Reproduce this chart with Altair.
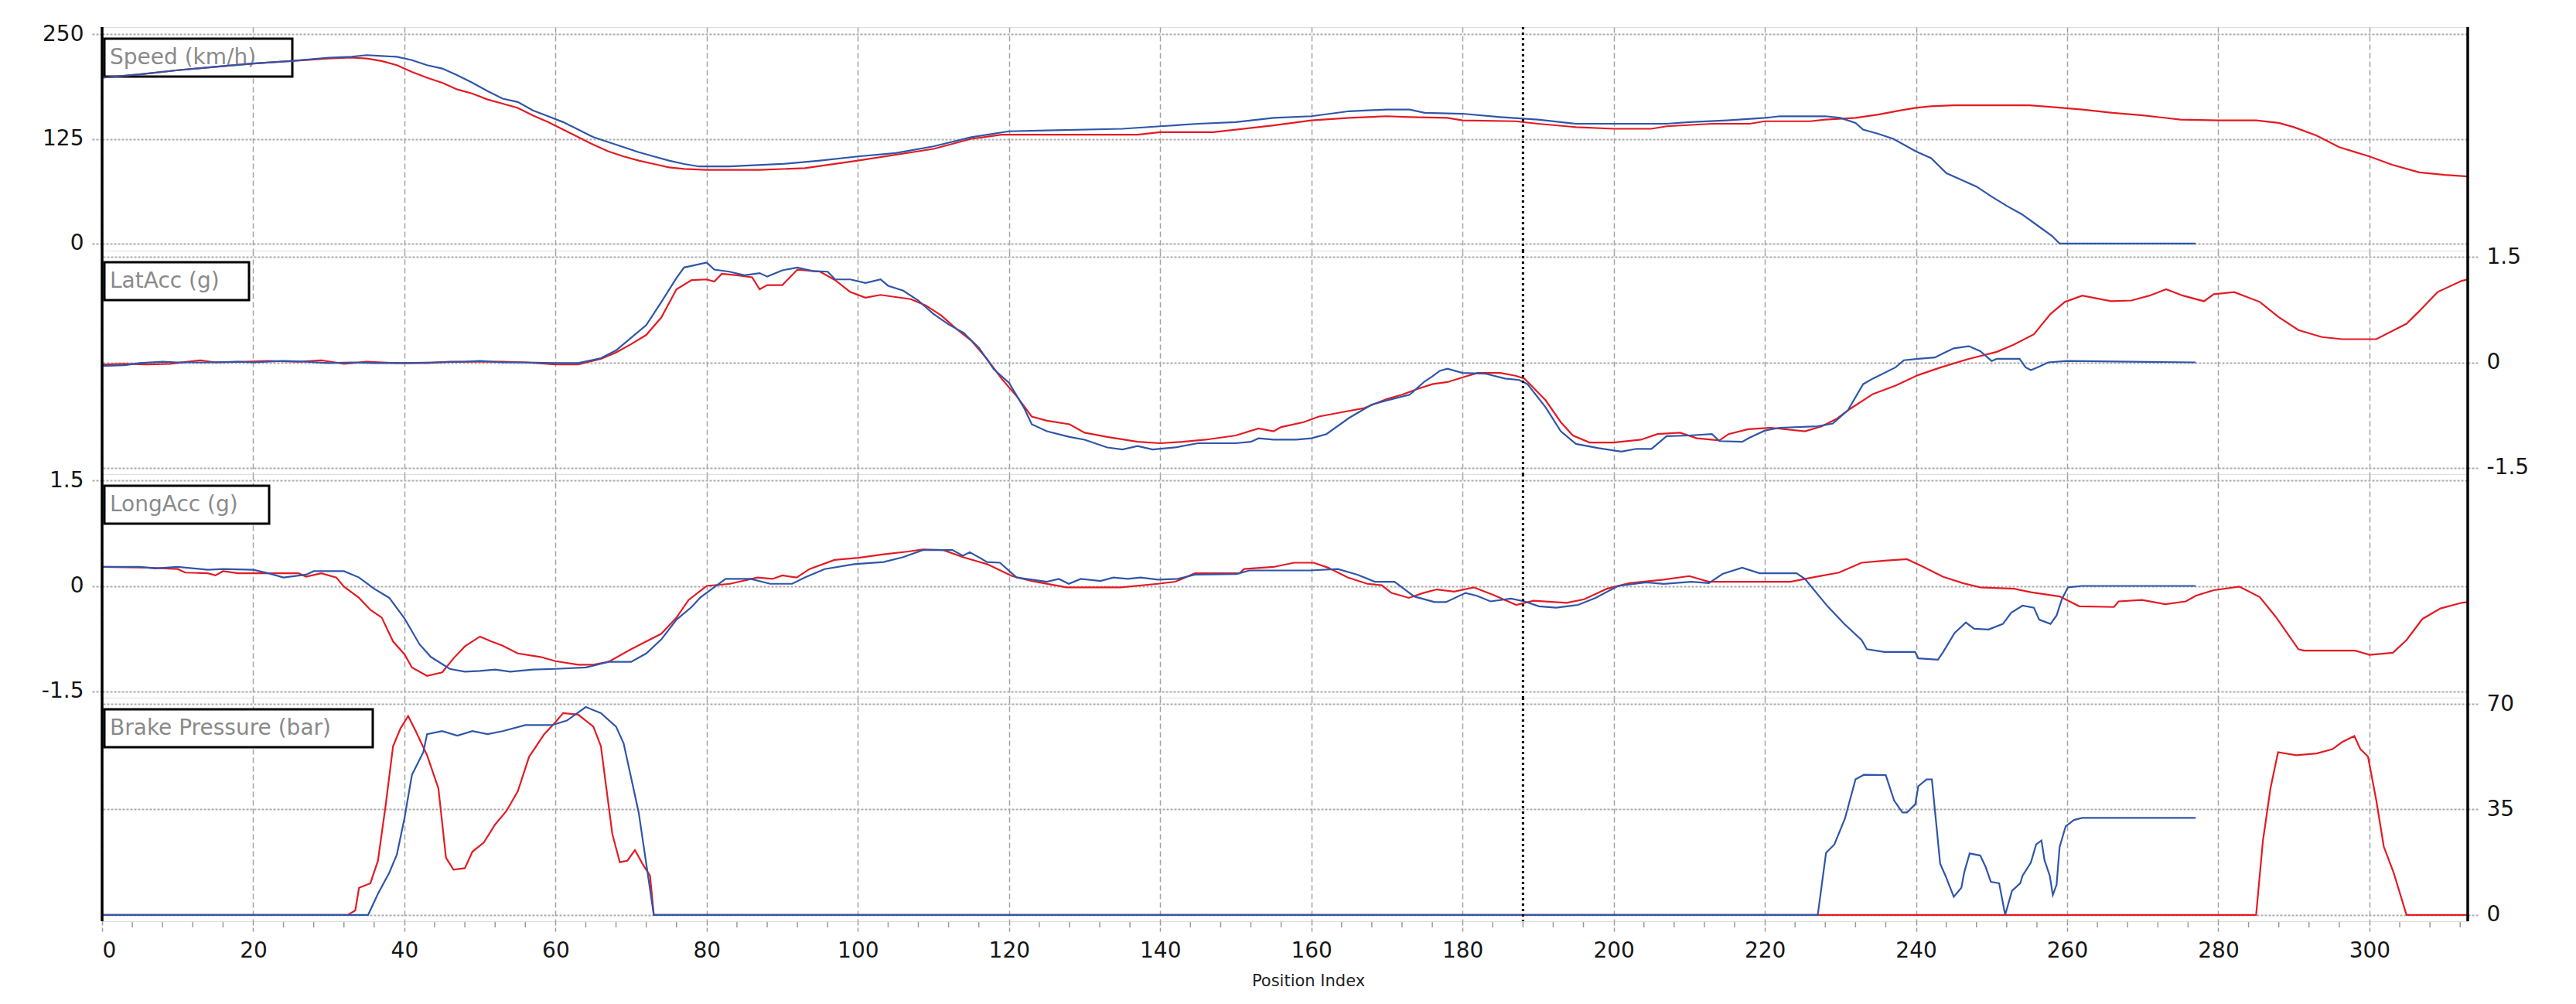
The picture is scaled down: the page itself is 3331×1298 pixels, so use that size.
import altair as alt
import pandas as pd

# ---------------- data ----------------
X_MAX = 313
X_TICKS = list(range(0, 301, 20))
MINOR_TICKS = [v for v in range(4, 313, 4) if v % 20 != 0]
CURSOR_X = 188

PANEL_TITLES = ["Speed (km/h)", "LatAcc (g)", "LongAcc (g)", "Brake Pressure (bar)"]
Y_DOMAINS = [[-8.5, 258.5], [-1.59, 1.59], [-1.59, 1.59], [-2.1, 72.1]]
Y_TICKS = [[0, 125, 250], [-1.5, 0, 1.5], [-1.5, 0, 1.5], [0, 35, 70]]
AXIS_SIDES = ["left", "right", "left", "right"]

SPEED_BLUE = [(0,198),(5,202),(10,207),(15,211),(20,215),(25,218),(30,222),(33,223),(35,225),(37,224),(39,223),(41,219),(43,213),(45,209),(47,201),(49,192),(51,182),(53,173),(55,169),(57,159),(59,152),(61,145),(63,136),(65,127),(67,121),(69,115),(71,109),(73,104),(75,99),(77,95),(79,92),(83,92),(90,95),(95,99),(100,104),(105,108),(110,116),(115,127),(120,134),(125,135),(135,137),(140,140),(145,143),(150,145),(155,150),(160,152),(165,158),(170,160),(173,160),(175,156),(180,155),(185,151),(190,148),(195,143),(207,143),(210,145),(215,147),(220,150),(222,152),(228,152),(230,150),(232,144),(233,136),(235,131),(237,125),(240,110),(242,102),(244,84),(246,76),(248,68),(250,56),(252,45),(254,35),(256,22),(258,9),(259,0),(277,0)]
SPEED_RED = [(0,198),(5,202),(10,207),(15,211),(20,215),(25,218),(30,221),(33,222),(35,221),(37,218),(39,213),(41,205),(43,198),(45,192),(47,184),(49,179),(51,172),(53,167),(55,162),(57,153),(59,145),(61,136),(63,127),(65,118),(67,110),(69,104),(71,99),(73,95),(75,91),(77,89),(80,88),(87,88),(93,90),(100,99),(110,113),(115,125),(119,130),(137,130),(140,133),(147,133),(150,136),(155,141),(160,147),(165,150),(170,152),(173,151),(178,150),(180,147),(187,146),(190,143),(195,139),(200,137),(205,137),(207,140),(213,143),(218,143),(220,146),(226,146),(228,148),(232,150),(235,154),(238,159),(240,162),(242,164),(245,165),(255,165),(258,163),(262,160),(266,156),(270,153),(275,148),(280,147),(285,147),(288,144),(290,139),(293,129),(296,115),(300,104),(303,94),(306.6,85),(310,82),(313,80)]

LAT_BLUE = [(0,-0.05),(3,-0.04),(5,-0.01),(8,0.01),(10,0.0),(14,0.0),(18,0.01),(20,0.0),(24,0.02),(27,0.01),(30,-0.01),(33,0.0),(36,-0.01),(40,-0.01),(44,0.0),(48,0.01),(50,0.02),(53,0.0),(56,0.0),(60,-0.01),(63,-0.01),(66,0.06),(68,0.17),(70,0.35),(72,0.53),(74,0.86),(76,1.2),(77,1.35),(80,1.42),(81,1.32),(83,1.29),(85,1.24),(87,1.27),(88,1.22),(90,1.31),(92,1.35),(94,1.30),(96,1.29),(97,1.18),(99,1.18),(101,1.13),(103,1.18),(104,1.09),(106,1.02),(108,0.88),(110,0.69),(112,0.54),(114,0.42),(116,0.21),(118,-0.10),(120,-0.29),(122,-0.65),(123,-0.88),(125,-0.98),(128,-1.06),(130,-1.10),(133,-1.21),(135,-1.24),(137,-1.19),(139,-1.24),(142,-1.21),(145,-1.15),(150,-1.15),(152,-1.13),(153,-1.08),(155,-1.10),(158,-1.10),(160,-1.08),(162,-1.02),(165,-0.79),(168,-0.60),(170,-0.54),(173,-0.46),(175,-0.27),(176,-0.20),(177,-0.12),(178,-0.09),(180,-0.15),(183,-0.16),(185.6,-0.23),(187.5,-0.25),(188.6,-0.31),(191,-0.64),(193,-0.98),(195,-1.16),(198,-1.22),(201,-1.27),(203,-1.23),(205,-1.23),(207,-1.05),(210,-1.04),(213,-1.02),(214,-1.12),(217,-1.13),(218,-1.07),(220,-0.97),(222,-0.93),(227,-0.91),(229,-0.87),(231,-0.68),(233,-0.31),(234.3,-0.23),(237.3,-0.07),(238.4,0.03),(240.3,0.05),(242.5,0.07),(243.6,0.13),(245,0.2),(247,0.23),(248.5,0.16),(250,0.02),(250.7,0.05),(253.7,0.05),(254.5,-0.07),(255.2,-0.11),(256.3,-0.06),(257.5,0.0),(260,0.02),(277,0.0)]
LAT_RED = [(0,-0.03),(3,-0.02),(6,-0.03),(9,-0.02),(13,0.03),(15,0.0),(19,0.01),(22,0.02),(26,0.01),(29,0.03),(32,-0.02),(35,0.01),(39,-0.01),(43,-0.01),(46,0.01),(50,0.01),(53,0.01),(56,0.0),(60,-0.03),(63,-0.03),(66,0.05),(68,0.14),(70,0.26),(72,0.39),(74,0.64),(76,1.04),(78,1.17),(80,1.18),(81,1.15),(82,1.26),(84,1.24),(86,1.21),(87,1.04),(88,1.10),(90,1.10),(92,1.32),(95,1.29),(97,1.17),(99,1.0),(101,0.92),(103,0.96),(105,0.93),(107,0.9),(109,0.81),(111,0.67),(113,0.48),(115,0.31),(117,0.06),(119,-0.23),(121,-0.48),(123,-0.77),(125,-0.83),(128,-0.88),(130,-1.0),(133,-1.06),(137,-1.13),(140,-1.15),(143,-1.13),(146,-1.10),(150,-1.04),(153,-0.94),(155,-0.98),(156,-0.92),(159,-0.85),(161,-0.77),(164,-0.71),(167,-0.65),(170,-0.52),(172,-0.46),(174,-0.38),(176,-0.31),(178,-0.28),(180.4,-0.2),(182,-0.15),(185,-0.15),(187,-0.19),(188.2,-0.23),(191,-0.54),(193,-0.85),(194.6,-1.04),(196.8,-1.14),(200,-1.14),(203.6,-1.10),(205.8,-1.02),(208.8,-1.0),(211,-1.08),(214,-1.11),(215.2,-1.02),(217.8,-0.95),(220.8,-0.93),(225.3,-0.98),(227.5,-0.91),(229.4,-0.81),(231.3,-0.66),(234.3,-0.45),(237.3,-0.33),(240.3,-0.18),(243.3,-0.07),(247,0.05),(250.7,0.15),(252.9,0.25),(255.6,0.40),(257.8,0.69),(259.7,0.86),(262,0.95),(265.8,0.87),(268.5,0.88),(270.9,0.95),(273.1,1.04),(275.3,0.95),(278.1,0.87),(279.4,0.97),(282.1,1.0),(285.5,0.86),(287.9,0.65),(290.6,0.46),(293.7,0.36),(296.4,0.33),(300.9,0.33),(304.9,0.55),(306.6,0.73),(309,1.0),(312.2,1.16),(313,1.18)]

LONG_BLUE = [(0,0.27),(5,0.27),(7,0.25),(10,0.27),(14,0.23),(16,0.24),(20,0.23),(22,0.18),(24,0.12),(27,0.16),(28,0.21),(32,0.21),(34,0.12),(36,-0.04),(38,-0.17),(40,-0.46),(42,-0.83),(43.5,-1.01),(46,-1.18),(48,-1.22),(50,-1.21),(52,-1.19),(54,-1.22),(57,-1.19),(60,-1.18),(64,-1.16),(67,-1.08),(70,-1.08),(72,-0.96),(74,-0.76),(76,-0.48),(78,-0.30),(79.2,-0.16),(82.5,0.10),(85.8,0.10),(88.4,0.03),(91.3,0.03),(93,0.12),(95.6,0.24),(99.5,0.31),(103.4,0.34),(106,0.41),(108.6,0.51),(112.5,0.51),(113.9,0.43),(114.8,0.48),(117.1,0.34),(118.8,0.33),(121,0.12),(125,0.06),(126.6,0.10),(127.9,0.03),(129.5,0.10),(132.1,0.07),(133.8,0.12),(135.7,0.10),(137.4,0.12),(139.7,0.09),(142.3,0.10),(144.6,0.16),(150.1,0.17),(151.8,0.22),(159.8,0.22),(163.5,0.24),(166.1,0.16),(168.4,0.06),(171,0.06),(173.6,-0.15),(176.3,-0.23),(177.8,-0.23),(180.4,-0.10),(181.9,-0.14),(183.7,-0.22),(186.4,-0.18),(188.2,-0.22),(190.1,-0.29),(192.4,-0.31),(195.3,-0.27),(197.6,-0.17),(200.6,0.0),(204.3,0.05),(206.6,0.03),(210.3,0.06),(212.6,0.04),(214.4,0.17),(217,0.26),(219.3,0.18),(224.2,0.18),(225.3,0.10),(228.3,-0.29),(230.5,-0.54),(232.8,-0.77),(233.5,-0.90),(235.8,-0.94),(239.9,-0.94),(240.3,-1.03),(242.9,-1.05),(243.6,-0.94),(245.1,-0.67),(246.6,-0.52),(247.7,-0.61),(249.6,-0.62),(251.5,-0.54),(252.6,-0.38),(254.1,-0.28),(255.6,-0.31),(256.3,-0.48),(257.8,-0.54),(258.6,-0.42),(259.3,-0.19),(260.1,-0.02),(262,0.0),(277,0.0)]
LONG_RED = [(0,0.27),(6,0.26),(10,0.24),(11,0.19),(14,0.18),(15,0.15),(16,0.21),(18,0.18),(26,0.18),(27,0.13),(29,0.18),(31,0.12),(32,-0.01),(34,-0.17),(35.5,-0.34),(37,-0.45),(38.5,-0.79),(40,-0.97),(41,-1.16),(43,-1.28),(45,-1.23),(46.5,-1.03),(48,-0.86),(50,-0.72),(51.5,-0.79),(53,-0.85),(55,-0.96),(58,-1.01),(60,-1.07),(63,-1.12),(65,-1.12),(67,-1.08),(70,-0.90),(72,-0.79),(74,-0.68),(76,-0.45),(77.6,-0.20),(80,0.0),(83.1,0.03),(86.7,0.12),(88.7,0.10),(90,0.15),(91.9,0.12),(93.6,0.24),(96.9,0.37),(100.1,0.40),(103.4,0.45),(106.7,0.49),(108.6,0.52),(111.3,0.51),(113.9,0.41),(117.1,0.31),(120.4,0.14),(123,0.07),(127.6,-0.02),(134.8,-0.02),(139.7,0.03),(142,0.06),(144.6,0.18),(150.5,0.18),(151.1,0.24),(155,0.27),(157.7,0.33),(160.3,0.33),(162.2,0.26),(164.8,0.12),(167.4,0.03),(169.3,0.01),(170.6,-0.10),(172.9,-0.17),(174.8,-0.10),(176.6,-0.05),(178.9,-0.08),(181.5,-0.02),(184.1,-0.13),(187.1,-0.27),(189.4,-0.21),(193.8,-0.24),(196.1,-0.19),(199.1,-0.04),(202.1,0.04),(206.6,0.09),(210,0.14),(212.6,0.06),(223.4,0.06),(226.8,0.13),(229.8,0.19),(232.8,0.33),(235.8,0.36),(238.8,0.38),(241,0.27),(243.6,0.13),(246.2,0.04),(248.5,-0.02),(253,-0.04),(255.2,-0.09),(259,-0.15),(261.6,-0.29),(266.2,-0.30),(266.8,-0.22),(269.9,-0.20),(273,-0.26),(275.7,-0.22),(277,-0.14),(279.4,-0.06),(282.8,-0.01),(285.5,-0.16),(287.6,-0.44),(290.6,-0.90),(291.3,-0.92),(298.1,-0.92),(300,-0.98),(303.1,-0.95),(304.9,-0.77),(307,-0.47),(309.4,-0.32),(312.2,-0.24),(313,-0.23)]

BRAKE_BLUE = [(0,0),(35.2,0),(36.5,7),(38,14),(39,20),(40,32),(41,46.5),(42.5,54),(43,60),(45,61),(47,59.5),(49,61),(51,60),(53,61),(56,63),(59.5,63),(61.5,64.5),(64,69),(66,67),(68,62.5),(69,57),(71,34),(73,0),(227,0),(228.1,20.6),(229.2,23.4),(230.6,32),(232,45),(233.1,46.5),(236,46.4),(237.1,38),(238.2,34),(238.8,34),(239.9,36.7),(240.3,42.7),(241.4,45),(242.1,45),(243.2,17),(243.9,13),(245,6),(246,9),(246.4,14.3),(247.1,20.4),(248.5,19.7),(249.2,16),(249.9,11),(251,10.5),(251.8,0),(252.7,8),(253.8,10.5),(254.1,13),(255.2,17.4),(255.9,23.4),(256.6,24.7),(257,18.2),(257.7,13),(258.1,6.6),(258.6,10),(259,22.5),(259.8,29.4),(260.9,31.5),(262,32.2),(277,32.2)]
BRAKE_RED = [(0,0),(32.5,0),(33.5,1.5),(34,9),(35.5,10.5),(36.5,18),(37.5,36),(38.5,56),(39.5,62),(40.5,66),(41.5,61),(43,53),(44.5,42),(45.5,19),(46.5,15),(48,15.5),(49,21),(50.5,24),(52,30),(53.5,34.5),(55,41),(56.5,52.5),(58.5,60),(60,64),(61,67),(63,66.5),(65,62.5),(66,56),(67.5,27),(68.5,17.5),(69.5,18),(70.5,21.5),(71.5,17),(72.5,13),(73,0),(285,0),(285.9,24.6),(286.9,42),(287.9,54),(290.3,53),(293,53.6),(295.1,55),(296.4,57.4),(298,59.4),(298.8,55),(299.8,52.6),(300.9,38),(301.9,22.6),(303.2,14),(304.9,0),(313,0)]

SERIES = [(SPEED_BLUE, SPEED_RED), (LAT_BLUE, LAT_RED), (LONG_BLUE, LONG_RED), (BRAKE_BLUE, BRAKE_RED)]

# ---------------- styling ----------------
BLUE = "#2f56a8"
RED = "#e31b23"
FONT = "DejaVu Sans"
W, H = 3059, 289
BOX_RIGHT = [246, 190, 216, 350]


def panel(i, bottom):
    blue_pts, red_pts = SERIES[i]
    df_b = pd.DataFrame(blue_pts, columns=["x", "y"])
    df_r = pd.DataFrame(red_pts, columns=["x", "y"])

    xaxis_kw = dict(values=X_TICKS, grid=True, gridDash=[7, 4], gridColor="#a3a3a3",
                    gridWidth=1.5, domain=False, format="d")
    if bottom:
        xaxis_kw.update(labels=True, ticks=True, tickSize=16, tickDash=[5, 3],
                        tickColor="#9a9a9a", tickWidth=1.5, labelFont=FONT,
                        labelFontSize=28, labelColor="#151515", labelPadding=8,
                        titleFont=FONT, titleFontSize=21, titleFontWeight="normal",
                        titleColor="#222222", titlePadding=14, titleX=W / 2 + 30)
    else:
        xaxis_kw.update(labels=False, ticks=False)
    X = alt.X("x:Q", scale=alt.Scale(domain=[0, X_MAX], nice=False, zero=False),
              axis=alt.Axis(**xaxis_kw),
              title="Position Index" if bottom else None)

    yaxis = alt.Axis(values=Y_TICKS[i], orient=AXIS_SIDES[i], grid=True, gridDash=[3, 2],
                     gridColor="#ababab", gridWidth=2, tickSize=15, tickDash=[3, 2],
                     tickColor="#ababab", tickWidth=2, domain=False, format=".1~f",
                     labelFont=FONT, labelFontSize=28, labelColor="#151515", labelPadding=9,
                     labelExpr="replace(datum.label, '\u2212', '-')")
    Y = alt.Y("y:Q", scale=alt.Scale(domain=Y_DOMAINS[i], nice=False, zero=False),
              axis=yaxis, title=None)

    box_df = pd.DataFrame({"label": [PANEL_TITLES[i]]})
    box = alt.Chart(box_df).mark_rect(fill="white", stroke="black", strokeWidth=3).encode(
        x=alt.value(3), x2=alt.value(BOX_RIGHT[i]), y=alt.value(15), y2=alt.value(64))
    txt = alt.Chart(box_df).mark_text(align="left", baseline="middle", font=FONT,
                                      fontSize=28, color="#8a8a8a").encode(
        x=alt.value(10), y=alt.value(40), text="label:N")

    red = alt.Chart(df_r).mark_line(color=RED, strokeWidth=2.2).encode(x=X, y=Y)
    blue = alt.Chart(df_b).mark_line(color=BLUE, strokeWidth=2.2).encode(x=X, y=Y)

    cursor = alt.Chart(pd.DataFrame({"x": [CURSOR_X]})).mark_rule(
        color="black", strokeWidth=3, strokeDash=[3, 4]).encode(x=X)
    frame = alt.Chart(pd.DataFrame({"x": [0, X_MAX]})).mark_rule(
        color="black", strokeWidth=3.5).encode(x=X)

    layers = [box, txt, red, blue, cursor, frame]
    if bottom:
        minor = alt.Chart(pd.DataFrame({"x": MINOR_TICKS})).mark_rule(
            color="#9a9a9a", strokeWidth=1.5).encode(x=X, y=alt.value(H + 1), y2=alt.value(H + 8))
        layers.append(minor)
    return alt.layer(*layers).properties(width=W, height=H)


panels = [panel(i, i == 3) for i in range(4)]

chart = alt.vconcat(*panels, spacing=0, bounds="flush").properties(
    padding={"left": 44, "top": 21, "right": 10, "bottom": 4},
    background="white",
).configure_view(stroke="#3c3c3c", strokeWidth=2.5).configure(font=FONT)

chart.save("out.html", embed_options={"renderer": "svg", "actions": False})
